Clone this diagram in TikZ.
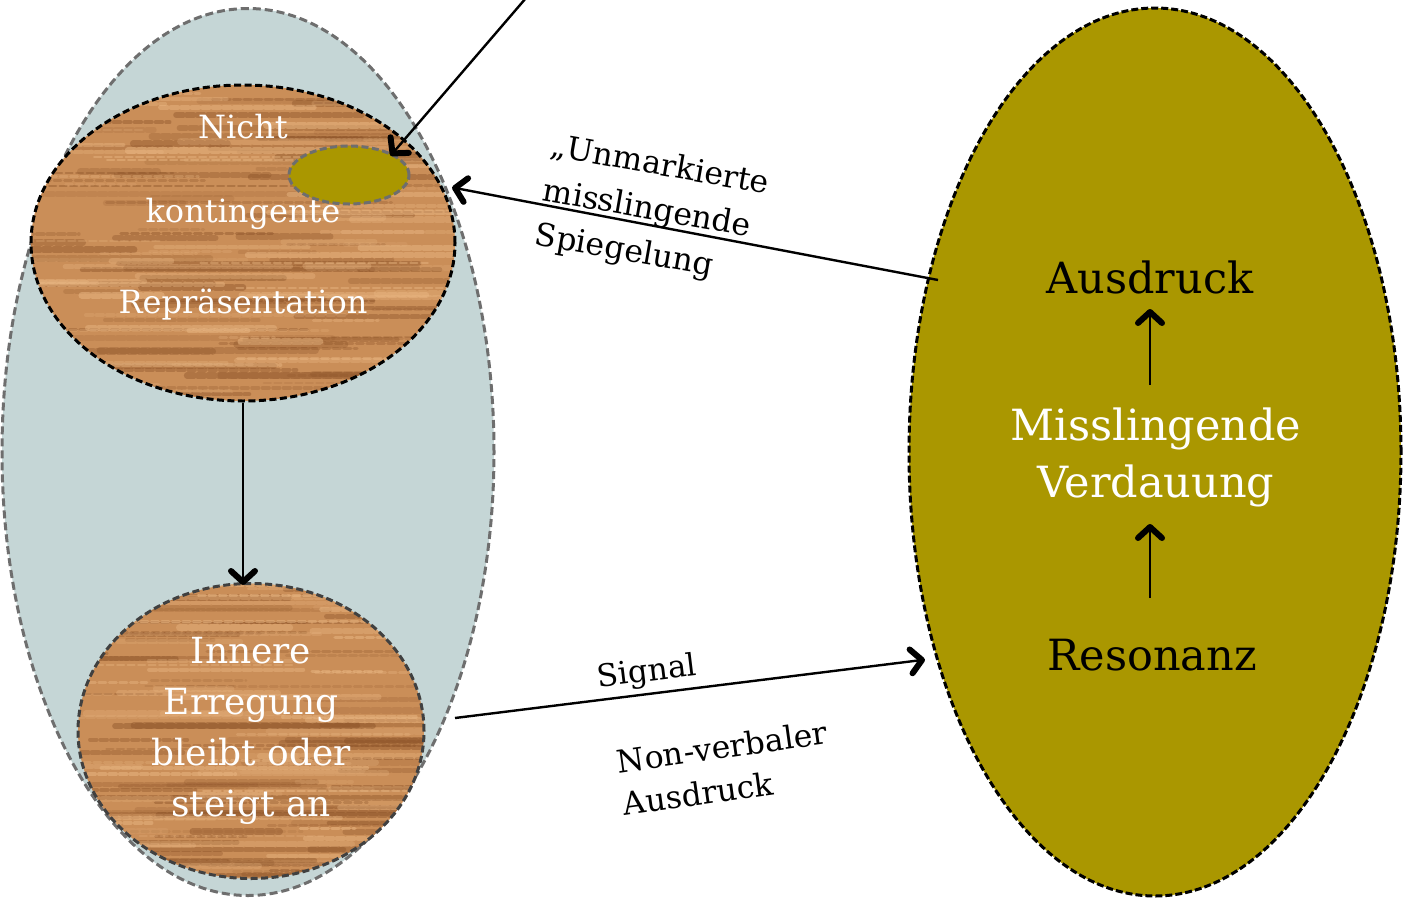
\documentclass[tikz,border=0pt]{standalone}
\usepackage{fontspec}
\setmainfont{DejaVu Serif}
\usetikzlibrary{shapes.geometric,decorations.markings,calc}
\definecolor{olivefill}{RGB}{170,151,0}
\definecolor{bluegrey}{RGB}{197,214,214}
\definecolor{woodbase}{RGB}{202,142,88}
\definecolor{wooddark}{RGB}{135,78,36}
\definecolor{woodlight}{RGB}{236,186,134}
\definecolor{dashgrey}{RGB}{110,110,110}
\newcommand\woodgrain[2]{%
  \begin{scope}[shift={(path picture bounding box.center)}]
    \fill[woodbase] (-#1-5,-#2-5) rectangle (#1+5,#2+5);
    \foreach \i in {1,...,90}{
      \pgfmathsetmacro\yy{-#2+2*#2*rnd}
      \pgfmathsetmacro\xx{-#1-80+2*#1*rnd}
      \pgfmathsetmacro\ll{60+240*rnd}
      \pgfmathsetmacro\ww{2+5*rnd}
      \pgfmathsetmacro\oo{0.12+0.3*rnd}
      \draw[line width=\ww pt, wooddark, opacity=\oo, line cap=round] (\xx,\yy) -- ++(\ll,0);
    }
    \foreach \i in {1,...,70}{
      \pgfmathsetmacro\yy{-#2+2*#2*rnd}
      \pgfmathsetmacro\xx{-#1-80+2*#1*rnd}
      \pgfmathsetmacro\ll{50+220*rnd}
      \pgfmathsetmacro\ww{2+5*rnd}
      \pgfmathsetmacro\oo{0.15+0.35*rnd}
      \draw[line width=\ww pt, woodlight, opacity=\oo, line cap=round] (\xx,\yy) -- ++(\ll,0);
    }
  \end{scope}}
\tikzset{
  ell/.style={ellipse, inner sep=0pt},
  bigell/.style={ell, fill=bluegrey, draw=dashgrey, line width=3pt, dash pattern=on 8pt off 4pt},
  woodtop/.style={ell, draw=black, line width=3pt, dash pattern=on 7pt off 3.5pt,
     path picture={\woodgrain{215}{160}}},
  woodbot/.style={ell, draw=black!75, line width=3pt, dash pattern=on 7pt off 3.5pt,
     path picture={\woodgrain{176}{150}}},
  olivesmall/.style={ell, fill=olivefill, draw=dashgrey, line width=3pt, dash pattern=on 7pt off 3.5pt},
  olivebig/.style={ell, fill=olivefill, draw=black, line width=3pt, dash pattern=on 7pt off 3pt},
  wtext/.style={text=white, align=center, inner sep=0pt},
  btext/.style={text=black, align=center, inner sep=0pt},
  lbl/.style={text=black, align=left, inner sep=0pt},
  arr/.style={line width=2.4pt, postaction={decorate},
    decoration={markings, mark=at position 1 with {
      \draw[solid, line width=6pt, line cap=round, line join=round]
        (-11pt,-12pt) -- (0pt,0pt) -- (-11pt,12pt);}}},
}
\begin{document}
\begin{tikzpicture}[x=1pt,y=-1pt]
\useasboundingbox (0,0) rectangle (1403,900);
\pgfmathsetseed{17}
% ellipses
\node[bigell, minimum width=492pt, minimum height=887pt] (outer) at (248,452) {};
\node[woodtop, minimum width=424pt, minimum height=316pt] (top) at (243,243) {};
\node[olivesmall, minimum width=120pt, minimum height=58pt] (small) at (349,175) {};
\node[woodbot, minimum width=346pt, minimum height=295pt] (bot) at (251,731) {};
\node[olivebig, minimum width=492pt, minimum height=888pt] (right) at (1155,452) {};
% texts
\node[wtext, font=\fontsize{32}{36}\selectfont] (t1) at (243,127) {Nicht};
\node[wtext, font=\fontsize{32}{36}\selectfont] (t2) at (243,214) {kontingente};
\node[wtext, font=\fontsize{32}{36}\selectfont] (t3) at (243,305) {Repräsentation};
\node[wtext, font=\fontsize{36}{51}\selectfont] (bt) at (251,731) {Innere\\Erregung\\bleibt oder\\steigt an};
\node[btext, font=\fontsize{43}{57}\selectfont] (aus) at (1150,277) {Ausdruck};
\node[wtext, font=\fontsize{43}{57}\selectfont] (mv) at (1156,457) {Misslingende\\Verdauung};
\node[btext, font=\fontsize{43}{57}\selectfont] (res) at (1152,655) {Resonanz};
% edge labels
\node[lbl, rotate=-10, font=\fontsize{31.5}{45}\selectfont] (l1) at (652,211) {„Unmarkierte\\misslingende\\Spiegelung};
\node[lbl, rotate=7, font=\fontsize{31}{40}\selectfont] (l2) at (647,673) {Signal};
\node[lbl, rotate=8, font=\fontsize{31.5}{43}\selectfont] (l3) at (725,768) {Non-verbaler\\Ausdruck};
% connectors
\coordinate (src) at (526,-2);
\coordinate (a2s) at (938,280);
\coordinate (a2e) at (455,188);
\coordinate (a4s) at (455,718);
\coordinate (a4e) at (922,660);
\coordinate (i1s) at (1150,385);
\coordinate (i1e) at (1150,312);
\coordinate (i2s) at (1150,598);
\coordinate (i2e) at (1150,527);
\draw[arr] (src) -- (small.north east);
\draw[arr] (a2s) -- (a2e);
\draw[arr] (top.south) -- (top.south |- bot.north);
\draw[arr] (a4s) -- (a4e);
\draw[arr] (i1s) -- (i1e);
\draw[arr] (i2s) -- (i2e);
\end{tikzpicture}
\end{document}
